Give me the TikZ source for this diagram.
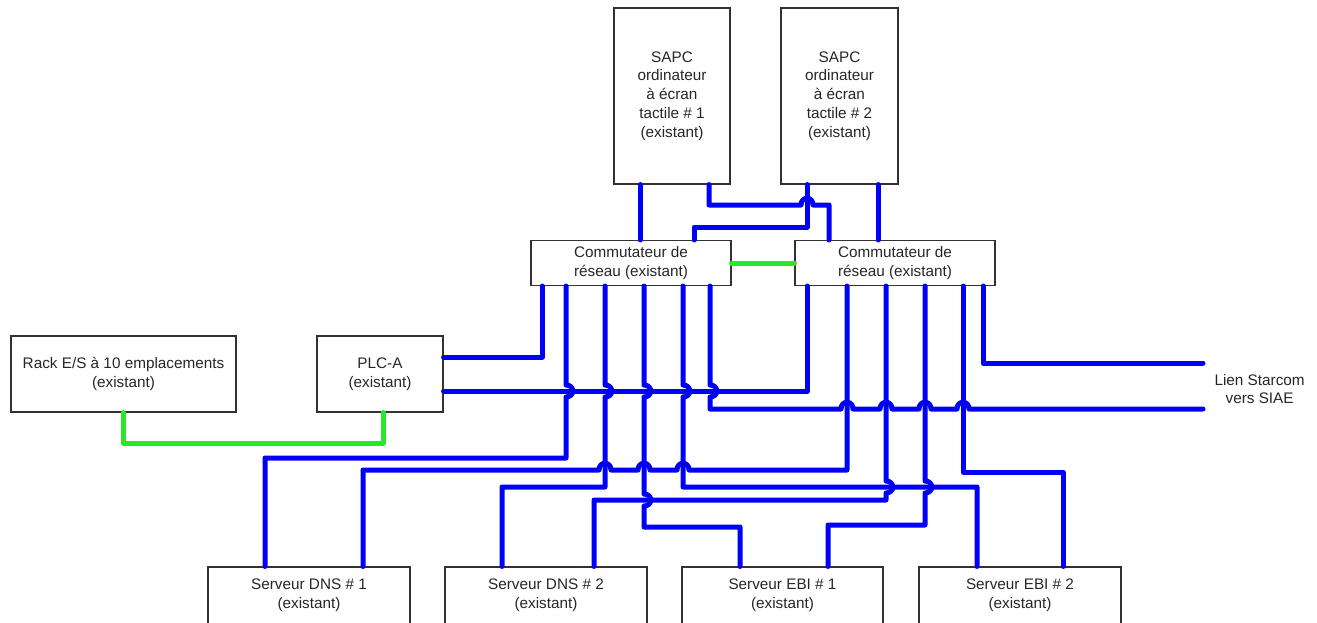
\documentclass[tikz,border=0pt]{standalone}
\usepackage{fontspec}
\setmainfont{Liberation Sans}
\definecolor{wireblue}{RGB}{0,0,250}
\definecolor{wiregreen}{RGB}{40,232,40}
\definecolor{boxline}{RGB}{50,50,50}
% small bridges where two cables cross
\newcommand{\hopup}[2]{-- ({#1-6},#2) .. controls ({#1-6},{#2-9}) and ({#1+6},{#2-9}) .. ({#1+6},#2)}
\newcommand{\hopdn}[2]{-- (#1,{#2-6}) .. controls ({#1+9},{#2-6}) and ({#1+9},{#2+6}) .. (#1,{#2+6})}
\newcommand{\hoprise}[2]{-- (#1,{#2+6}) .. controls ({#1+9},{#2+6}) and ({#1+9},{#2-6}) .. (#1,{#2-6})}

\begin{document}
\begin{tikzpicture}[x=1pt,y=-1pt,
  box/.style={draw=boxline, line width=1.1pt, align=center, inner sep=0pt, text=black!85,
    font=\fontsize{15.3pt}{18.8pt}\selectfont},
  wire/.style={draw=wireblue, line width=5pt, line join=round, line cap=round},
  link/.style={draw=wiregreen, line width=5pt, line join=round, line cap=round}]
\useasboundingbox (0,0) rectangle (1317,622);
\node[box, minimum width=116pt, minimum height=176pt] (S1) at (672,96) {SAPC\\ordinateur\\à écran\\tactile \# 1\\(existant)};
\node[box, minimum width=117pt, minimum height=176pt] (S2) at (839.5,96) {SAPC\\ordinateur\\à écran\\tactile \# 2\\(existant)};
\node[box, minimum width=200pt, minimum height=45pt] (C1) at (631,263) {Commutateur de\\réseau (existant)};
\node[box, minimum width=200pt, minimum height=45pt] (C2) at (895,263) {Commutateur de\\réseau (existant)};
\node[box, minimum width=225pt, minimum height=76pt] (R1) at (123.5,374) {Rack E/S à 10 emplacements\\(existant)};
\node[box, minimum width=126pt, minimum height=76pt] (P1) at (380,374) {PLC-A\\(existant)};
\node[box, minimum width=202pt, minimum height=57pt] (D1) at (309,595.5) {Serveur DNS \# 1\\(existant)};
\node[box, minimum width=202pt, minimum height=57pt] (D2) at (546,595.5) {Serveur DNS \# 2\\(existant)};
\node[box, minimum width=201pt, minimum height=57pt] (E1) at (782.5,595.5) {Serveur EBI \# 1\\(existant)};
\node[box, minimum width=202pt, minimum height=57pt] (E2) at (1020,595.5) {Serveur EBI \# 2\\(existant)};
\node[box, draw=none, anchor=west, inner xsep=11pt] (L1) at (1203,389) {Lien Starcom\\vers SIAE};
% ecrans vers commutateurs
\draw[wire] (640,0 |- S1.south) -- (640,0 |- C1.north);
\draw[wire] (709,0 |- S1.south) -- (709,205) \hopup{807}{205} -- (829,205) -- (829,0 |- C2.north);
\draw[wire] (807,0 |- S2.south) -- (807,227) -- (694,227) -- (694,0 |- C1.north);
\draw[wire] (878,0 |- S2.south) -- (878,0 |- C2.north);
\draw[link] (C1.east) -- (C2.west);
% PLC et lien Starcom
\draw[wire] (542,0 |- C1.south) -- (542,357) -- (P1.east |- 0,357);
\draw[wire] (P1.east |- 0,391) -- (807,391) -- (807,0 |- C2.south);
\draw[wire] (710,0 |- C1.south) \hopdn{710}{391} -- (710,409) \hopup{847}{409} \hopup{886}{409} \hopup{925}{409} \hopup{963}{409} -- (L1.west |- 0,409);
\draw[wire] (983,0 |- C2.south) -- (983,363) -- (L1.west |- 0,363);
\draw[link] (123,0 |- R1.south) -- (123,443) -- (383,443) -- (383,0 |- P1.south);
% serveurs
\draw[wire] (566,0 |- C1.south) \hopdn{566}{391} -- (566,458) -- (265,458) -- (265,0 |- D1.north);
\draw[wire] (363,0 |- D1.north) -- (363,470) \hopup{605}{470} \hopup{644}{470} \hopup{683}{470} -- (847,470) -- (847,0 |- C2.south);
\draw[wire] (605,0 |- C1.south) \hopdn{605}{391} -- (605,487) -- (502,487) -- (502,0 |- D2.north);
\draw[wire] (594,0 |- D2.north) -- (594,500) -- (886,500) \hoprise{886}{487} -- (886,0 |- C2.south);
\draw[wire] (644,0 |- C1.south) \hopdn{644}{391} \hopdn{644}{500} -- (644,527) -- (740,527) -- (740,0 |- E1.north);
\draw[wire] (683,0 |- C1.south) \hopdn{683}{391} -- (683,487) -- (977,487) -- (977,0 |- E2.north);
\draw[wire] (828,0 |- E1.north) -- (828,525) -- (925,525) \hoprise{925}{487} -- (925,0 |- C2.south);
\draw[wire] (1063,0 |- E2.north) -- (1063,472) -- (963,472) -- (963,0 |- C2.south);
\end{tikzpicture}
\end{document}
